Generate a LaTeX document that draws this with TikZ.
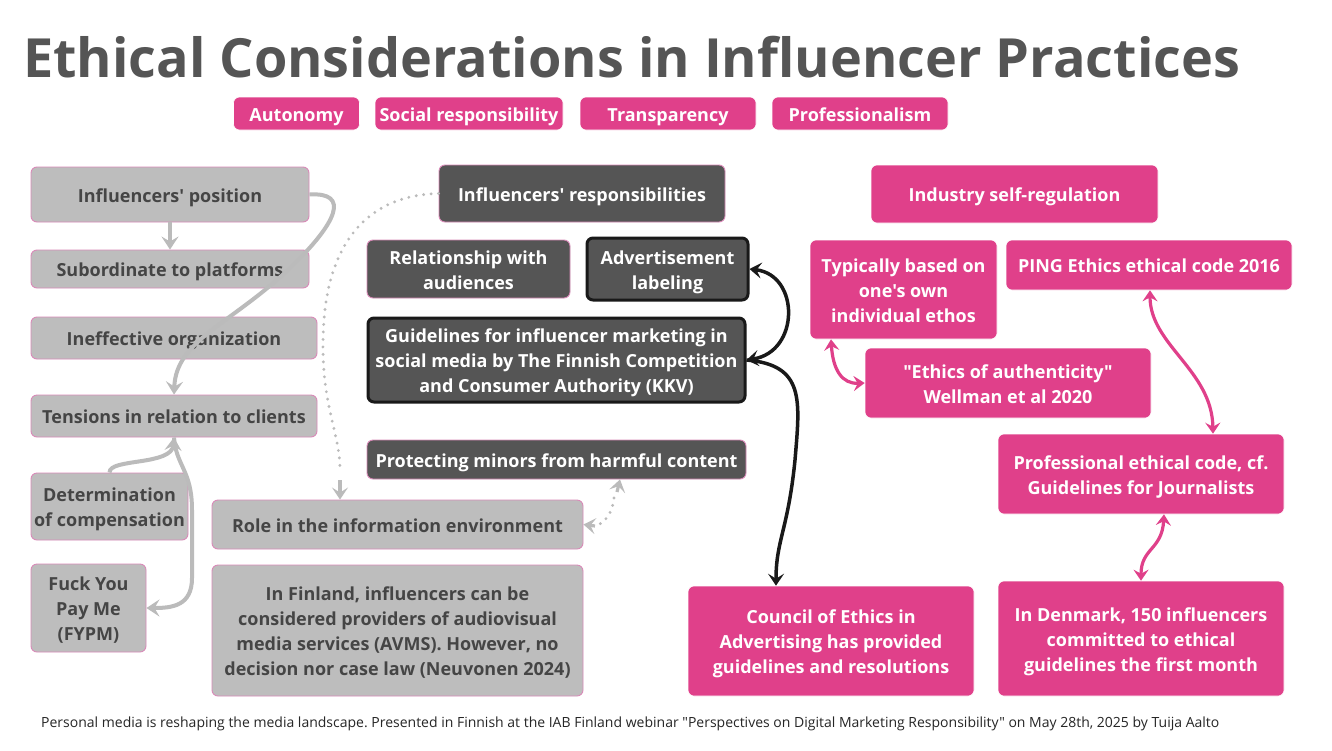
\documentclass[tikz,border=0pt]{standalone}
\usepackage{fontspec}
\setmainfont{Open Sans}[Ligatures=TeXOff]
\usetikzlibrary{arrows.meta}
\frenchspacing
\definecolor{pinkc}{HTML}{E0408A}
\definecolor{dgray}{HTML}{555555}
\definecolor{lgray}{HTML}{BDBDBD}
\definecolor{pborder}{HTML}{D98AB8}
\definecolor{txtgray}{HTML}{454545}
\definecolor{arrgray}{HTML}{BBBBBB}
\definecolor{titlegray}{HTML}{555555}
\newcommand\bt[1]{\raisebox{-2.5pt}[\height][\depth]{\begin{tabular}{@{}c@{}}#1\end{tabular}}}
\tikzset{
  basebox/.style={rounded corners=6pt, inner sep=0pt, font=\bfseries\fontsize{18}{25}\selectfont},
  lbox/.style={basebox, fill=lgray, draw=pborder, line width=0.9pt, text=txtgray},
  dbox/.style={basebox, fill=dgray, draw=pborder, line width=0.9pt, text=white},
  bbox/.style={basebox, fill=dgray, draw=black!90, line width=3pt, text=white},
  pbox/.style={basebox, fill=pinkc, draw=white, line width=0.6pt, text=white},
  tagbox/.style={basebox, fill=pinkc, draw=white, line width=0.6pt, text=white},
  garrow/.style={draw=arrgray, line width=4pt, -{Stealth[length=13pt,width=17pt,inset=5pt]}},
  gdot/.style={draw=arrgray, line width=3.2pt, line cap=round, dash pattern=on 0pt off 7.5pt},
  gdottip/.style={-{Stealth[length=12pt,width=16pt,inset=5pt]}},
  barrow/.style={draw=black!90, line width=3.5pt, {Stealth[length=12pt,width=16pt,inset=5pt]}-{Stealth[length=12pt,width=16pt,inset=5pt]}},
  parrow/.style={draw=pinkc, line width=3.2pt, {Stealth[length=11pt,width=15pt,inset=4pt]}-{Stealth[length=11pt,width=15pt,inset=4pt]}},
}
\begin{document}
\begin{tikzpicture}[x=1pt,y=-1pt]
\useasboundingbox[fill=white] (0,0) rectangle (1332,750);

% title
\node[anchor=base west, inner sep=0pt, text=titlegray, font=\bfseries\fontsize{54}{64}\selectfont] (title) at (23,77) {Ethical Considerations in Influencer Practices};

% tags
\node[tagbox, minimum width=126pt, minimum height=33pt] (t1) at (296.5,113.5) {\bt{Autonomy}};
\node[tagbox, minimum width=188pt, minimum height=33pt] (t2) at (469,113.5) {\bt{Social responsibility}};
\node[tagbox, minimum width=176pt, minimum height=33pt] (t3) at (668,113.5) {\bt{Transparency}};
\node[tagbox, minimum width=176pt, minimum height=33pt] (t4) at (860,113.5) {\bt{Professionalism}};

% left column
\node[lbox, minimum width=278pt, minimum height=55pt] (pos) at (170,194.5) {\bt{Influencers' position}};
\node[lbox, minimum width=278pt, minimum height=38pt] (sub) at (170,269) {\bt{Subordinate to platforms}};
\node[lbox, minimum width=286pt, minimum height=42pt] (ineff) at (174,338) {\bt{Ineffective organization}};
\node[lbox, minimum width=286pt, minimum height=42pt] (tens) at (174,416) {\bt{Tensions in relation to clients}};
\node[lbox, minimum width=157pt, minimum height=67pt] (det) at (109.5,506.5) {\bt{Determination\\of compensation}};
\node[lbox, minimum width=115pt, minimum height=88pt] (fypm) at (88.5,608) {\bt{Fuck You\\Pay Me\\(FYPM)}};

% center column
\node[dbox, minimum width=286pt, minimum height=57pt] (resp) at (582,193.5) {\bt{Influencers' responsibilities}};
\node[dbox, minimum width=203pt, minimum height=58pt] (rel) at (468.5,269) {\bt{Relationship with\\audiences}};
\node[bbox, minimum width=161pt, minimum height=62pt] (adv) at (667.5,269) {\bt{Advertisement\\labeling}};
\node[bbox, minimum width=377pt, minimum height=84pt] (guide) at (556.5,360) {\bt{Guidelines for influencer marketing in\\social media by The Finnish Competition\\and Consumer Authority (KKV)}};
\node[dbox, minimum width=379pt, minimum height=39pt] (minors) at (556.5,459.5) {\bt{Protecting minors from harmful content}};
\node[lbox, minimum width=371pt, minimum height=49pt] (role) at (397.5,524.5) {\bt{Role in the information environment}};
\node[lbox, minimum width=371pt, minimum height=131pt] (fin) at (397.5,630.5) {\bt{In Finland, influencers can be\\considered providers of audiovisual\\media services (AVMS). However, no\\decision nor case law (Neuvonen 2024)}};

% right column
\node[pbox, minimum width=287pt, minimum height=58pt] (ind) at (1014.5,194) {\bt{Industry self-regulation}};
\node[pbox, minimum width=187pt, minimum height=99pt] (typ) at (903.5,289.5) {\bt{Typically based on\\one's own\\individual ethos}};
\node[pbox, minimum width=286pt, minimum height=50pt] (ping) at (1149,265) {\bt{PING Ethics ethical code 2016}};
\node[pbox, minimum width=286pt, minimum height=70pt] (auth) at (1008,383) {\bt{"Ethics of authenticity"\\Wellman et al 2020}};
\node[pbox, minimum width=286pt, minimum height=80pt] (prof) at (1141,474) {\bt{Professional ethical code, cf.\\Guidelines for Journalists}};
\node[pbox, minimum width=286pt, minimum height=110pt] (council) at (831,641) {\bt{Council of Ethics in\\Advertising has provided\\guidelines and resolutions}};
\node[pbox, minimum width=286pt, minimum height=115pt] (den) at (1141,638.5) {\bt{In Denmark, 150 influencers\\committed to ethical\\guidelines the first month}};

% footer
\node[anchor=base west, inner sep=0pt, text=black!85, font=\fontsize{14}{16}\selectfont] (foot) at (41,727) {Personal media is reshaping the media landscape. Presented in Finnish at the IAB Finland webinar "Perspectives on Digital Marketing Responsibility" on May 28th, 2025 by Tuija Aalto};

% gray connectors (left)
\draw[garrow] (pos.south) -- (sub.north);
\draw[garrow] (pos.east) .. controls (350,192) and (338,222) .. (290,268) .. controls (230,325) and (176,340) .. (tens.north);
\draw[garrow] (det.north) .. controls (109,458) and (172,466) .. (tens.south);
\draw[garrow] (tens.south) .. controls (176,466) and (192,470) .. (192,510) -- (192,578) .. controls (192,606) and (172,608) .. (fypm.east);

% dotted connectors
\draw[gdot] (resp.west) .. controls (370,195) and (330,240) .. (324,320) .. controls (318,400) and (340,430) .. (340,470);
\coordinate (rtop) at (role.north -| 340,0);
\draw[draw=arrgray, line width=3.2pt, gdottip] (340,480) -- (rtop);
\coordinate (mbot) at (minors.south -| 620,0);
\coordinate (rright) at (role.east);
\draw[gdot] (614,498) .. controls (612,515) and (604,522) .. (598,525);
\draw[draw=arrgray, line width=3.2pt, gdottip] (617,492) -- (mbot);
\draw[draw=arrgray, line width=3.2pt, gdottip] (595,526) -- (rright);

% black connectors
\draw[barrow] (adv.east) .. controls (800,275) and (800,352) .. (guide.east);
\coordinate (ctop) at (council.north -| 776,0);
\draw[black!90, line width=3.5pt, -{Stealth[length=12pt,width=16pt,inset=5pt]}] (guide.east) .. controls (805,365) and (800,400) .. (795,460) .. controls (788,530) and (776,540) .. (ctop);

% pink connectors
\coordinate (typb) at (typ.south -| 831,0);
\draw[parrow] (typb) .. controls (833,370) and (842,384) .. (auth.west);
\coordinate (pingb) at (ping.south -| 1150,0);
\coordinate (proft) at (prof.north -| 1213,0);
\draw[parrow] (pingb) .. controls (1150,345) and (1212,370) .. (proft);
\coordinate (profb) at (prof.south -| 1164,0);
\coordinate (dent) at (den.north -| 1141,0);
\draw[parrow] (profb) .. controls (1162,550) and (1141,548) .. (dent);
\end{tikzpicture}
\end{document}
